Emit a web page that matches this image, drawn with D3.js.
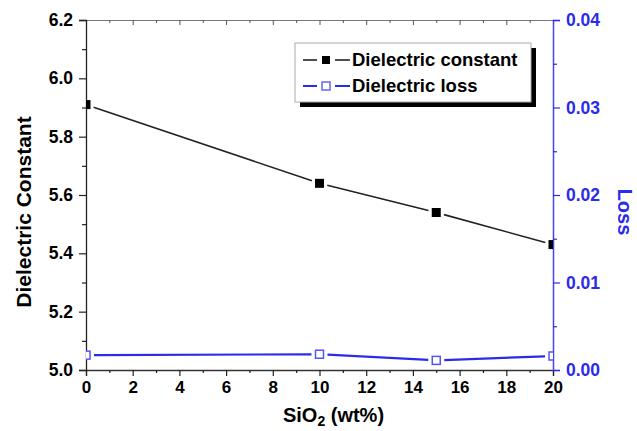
<!DOCTYPE html>
<html>
<head>
<meta charset="utf-8">
<script src="https://cdn.jsdelivr.net/npm/d3@7"></script>
<style>
  body { margin: 0; background: #fff; }
  svg text { font-family: Arial, "Liberation Sans", sans-serif; font-weight: bold; }
</style>
</head>
<body>
<div id="chart"></div>
<script>

// data
let sio2 = [0, 10, 15, 20];
let dielectricConstant = [5.91, 5.64, 5.54, 5.43];
let dielectricLoss = [0.0017, 0.0018, 0.0011, 0.0016];

let xTicks = [0, 2, 4, 6, 8, 10, 12, 14, 16, 18, 20];
let leftTicks = [5.0, 5.2, 5.4, 5.6, 5.8, 6.0, 6.2];
let rightTicks = [0.00, 0.01, 0.02, 0.03, 0.04];
let legendLabels = ["Dielectric constant", "Dielectric loss"];

let width = 637, height = 431;
let m = {left: 86, right: 84, top: 20, bottom: 61};
let blue = "#2b2bea";

let svg = d3.select("#chart").append("svg")
            .attr("width", width)
            .attr("height", height);

let x = d3.scaleLinear().domain([0, 20]).range([m.left, width - m.right]);
let yL = d3.scaleLinear().domain([5.0, 6.2]).range([height - m.bottom, m.top]);
let yR = d3.scaleLinear().domain([0, 0.04]).range([height - m.bottom, m.top]);

svg.append("clipPath").attr("id", "plotClip")
    .append("rect")
        .attr("x", m.left).attr("y", m.top)
        .attr("width", width - m.left - m.right)
        .attr("height", height - m.top - m.bottom);

// top axis: plain mirror with inward ticks
let topAxis = svg.append("g")
    .attr("transform", "translate(0," + m.top + ")")
    .call(d3.axisTop(x).tickValues(d3.range(0, 21, 1)).tickSize(-3).tickFormat(""));
topAxis.selectAll(".tick line").attr("stroke", "#555")
    .attr("y2", (d) => d % 2 === 0 ? 5 : 3);
topAxis.select(".domain").attr("stroke", "#777").attr("stroke-width", 1.2);

// bottom axis
let bottomAxis = svg.append("g")
    .attr("transform", "translate(0," + (height - m.bottom) + ")")
    .call(d3.axisBottom(x).tickValues(d3.range(0, 21, 1)).tickSize(6).tickPadding(5)
        .tickFormat((d) => xTicks.includes(d) ? d : ""));
bottomAxis.selectAll(".tick line").attr("stroke", "#222").attr("stroke-width", 1.2)
    .attr("y2", (d) => d % 2 === 0 ? 6 : 3);
bottomAxis.select(".domain").attr("stroke", "#333").attr("stroke-width", 1.3);
bottomAxis.selectAll("text").attr("fill", "#000").style("font-size", "17px");

// left axis
let leftAxis = svg.append("g")
    .attr("transform", "translate(" + m.left + ",0)")
    .call(d3.axisLeft(yL).tickValues(d3.range(0, 13).map((i) => 5.0 + i * 0.1))
        .tickSize(7).tickPadding(6)
        .tickFormat((d, i) => i % 2 === 0 ? d3.format(".1f")(d) : ""));
leftAxis.selectAll(".tick line").attr("stroke", "#222").attr("stroke-width", 1.2)
    .attr("x2", (d, i) => i % 2 === 0 ? -7 : -4);
leftAxis.select(".domain").attr("stroke", "#222").attr("stroke-width", 1.3);
leftAxis.selectAll("text").attr("fill", "#000").style("font-size", "17.5px");

// right axis (loss)
let rightAxis = svg.append("g")
    .attr("transform", "translate(" + (width - m.right) + ",0)")
    .call(d3.axisRight(yR).tickValues(d3.range(0, 9).map((i) => i * 0.005))
        .tickSize(7).tickPadding(6)
        .tickFormat((d, i) => i % 2 === 0 ? d3.format(".2f")(d) : ""));
rightAxis.selectAll(".tick line").attr("stroke", blue).attr("stroke-width", 1.2)
    .attr("x2", (d, i) => i % 2 === 0 ? 7 : 4);
rightAxis.select(".domain").attr("stroke", "#4444f0").attr("stroke-width", 1.5);
rightAxis.selectAll("text").attr("fill", blue).style("font-size", "17.5px");

// axis titles
let midY = 212;
svg.append("text")
    .attr("transform", "translate(31," + midY + ") rotate(-90)")
    .attr("text-anchor", "middle")
    .style("font-size", "21px")
    .text("Dielectric Constant");

svg.append("text")
    .attr("transform", "translate(618," + midY + ") rotate(90)")
    .attr("text-anchor", "middle")
    .attr("fill", blue)
    .style("font-size", "20px")
    .text("Loss");

let xt = svg.append("text")
    .attr("x", (m.left + width - m.right) / 2 + 14)
    .attr("y", 422)
    .attr("text-anchor", "middle")
    .style("font-size", "20px");
xt.append("tspan").text("SiO");
xt.append("tspan").attr("dy", 4).style("font-size", "14px").text("2");
xt.append("tspan").attr("dy", -4).text(" (wt%)");

// series: line pieces stop short of the markers
function drawSeries(vals, yScale, color, lineW, gap) {
    let pts = sio2.map((s, i) => [x(s), yScale(vals[i])]);
    let segs = d3.pairs(pts).map(([a, b]) => {
        let dx = b[0] - a[0], dy = b[1] - a[1];
        let len = Math.sqrt(dx * dx + dy * dy);
        let ux = dx / len, uy = dy / len;
        return [[a[0] + ux * gap, a[1] + uy * gap], [b[0] - ux * gap, b[1] - uy * gap]];
    });
    let g = svg.append("g").attr("clip-path", "url(#plotClip)");
    g.selectAll("line").data(segs).enter()
        .append("line")
            .attr("x1", (d) => d[0][0]).attr("y1", (d) => d[0][1])
            .attr("x2", (d) => d[1][0]).attr("y2", (d) => d[1][1])
            .attr("stroke", color)
            .attr("stroke-width", lineW);
    return {g: g, pts: pts};
}

let dc = drawSeries(dielectricConstant, yL, "#222", 1.6, 8);
dc.g.selectAll("rect").data(dc.pts).enter()
    .append("rect")
        .attr("x", (d) => d[0] - 4.5).attr("y", (d) => d[1] - 4.5)
        .attr("width", 9).attr("height", 9)
        .attr("fill", "#000");

let dl = drawSeries(dielectricLoss, yR, blue, 2.2, 8);
dl.g.selectAll("rect").data(dl.pts).enter()
    .append("rect")
        .attr("x", (d) => d[0] - 4).attr("y", (d) => d[1] - 4)
        .attr("width", 8).attr("height", 8)
        .attr("fill", "#fff")
        .attr("stroke", "#5555f2")
        .attr("stroke-width", 1.5);

// legend with drop shadow
let lg = svg.append("g").attr("transform", "translate(295,43)");
lg.append("rect").attr("x", 5).attr("y", 5).attr("width", 236).attr("height", 59).attr("fill", "#000");
lg.append("rect").attr("x", 0).attr("y", 0).attr("width", 236).attr("height", 59)
    .attr("fill", "#fff").attr("stroke", "#aaa").attr("stroke-width", 1);

let legendColors = ["#222", blue];
legendLabels.forEach((label, i) => {
    let row = lg.append("g").attr("transform", "translate(0," + (17 + i * 26) + ")");
    row.append("line").attr("x1", 8).attr("x2", 22).attr("stroke", legendColors[i]).attr("stroke-width", i ? 2 : 1.6);
    row.append("line").attr("x1", 40).attr("x2", 55).attr("stroke", legendColors[i]).attr("stroke-width", i ? 2 : 1.6);
    if (i === 0) {
        row.append("rect").attr("x", 27).attr("y", -4).attr("width", 8).attr("height", 8).attr("fill", "#000");
    } else {
        row.append("rect").attr("x", 27).attr("y", -4).attr("width", 8).attr("height", 8)
            .attr("fill", "#fff").attr("stroke", "#6666f2").attr("stroke-width", 1.5);
    }
    row.append("text").attr("x", 57).attr("dy", "0.35em").style("font-size", "18.5px").attr("fill", "#000").text(label);
});

</script>
</body>
</html>
